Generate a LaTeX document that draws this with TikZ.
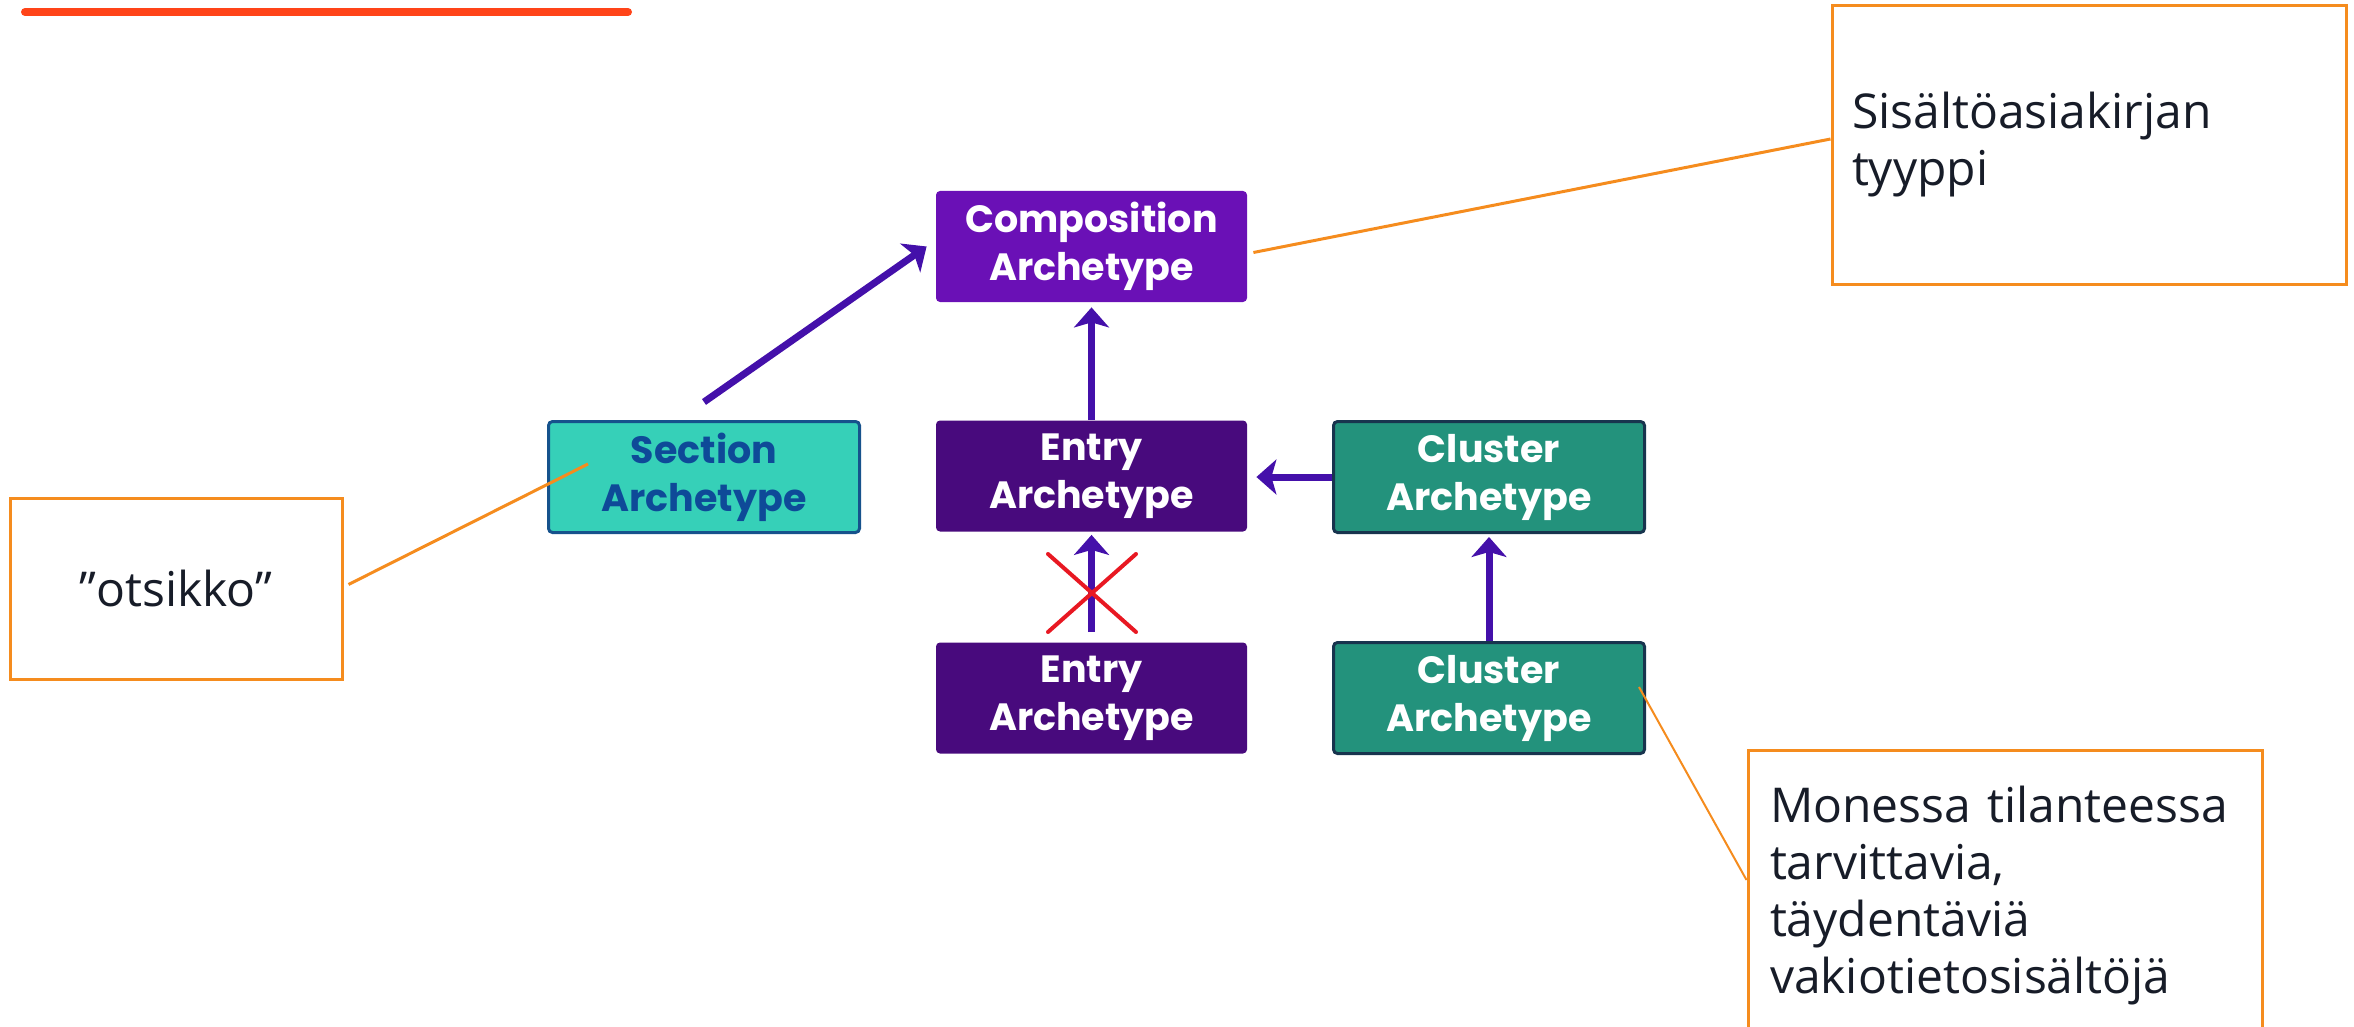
\documentclass[tikz,border=0pt]{standalone}
\usepackage{fontspec}
\setmainfont{Open Sans}
\newfontfamily\archfont{Poppins}
\usetikzlibrary{arrows.meta,calc}

\definecolor{compfill}{RGB}{106,16,182}
\definecolor{entryfill}{RGB}{72,10,125}
\definecolor{clusterfill}{RGB}{35,146,124}
\definecolor{clusterline}{RGB}{24,52,78}
\definecolor{sectionfill}{RGB}{54,208,184}
\definecolor{sectionline}{RGB}{22,82,140}
\definecolor{sectiontext}{RGB}{14,74,152}
\definecolor{arrowcol}{RGB}{68,16,170}
\definecolor{calloutline}{RGB}{245,140,30}
\definecolor{callouttext}{RGB}{23,28,40}
\definecolor{topbar}{RGB}{255,68,25}
\definecolor{crosscol}{RGB}{232,24,34}

\begin{document}
\begin{tikzpicture}[x=0.5pt,y=-0.5pt,
  arch/.style={rectangle, rounded corners=2pt, minimum width=155.5pt,
    minimum height=55.5pt, inner sep=0pt, align=center,
    font=\archfont\bfseries\fontsize{19}{24}\selectfont, text=white},
  comparch/.style={arch, fill=compfill},
  entryarch/.style={arch, fill=entryfill},
  clusterarch/.style={arch, fill=clusterfill, draw=clusterline, line width=1.5pt},
  sectionarch/.style={arch, fill=sectionfill, draw=sectionline, line width=1.5pt, text=sectiontext},
  link/.style={draw=arrowcol, line width=3.5pt,
    -{Stealth[length=10pt,width=17.5pt,inset=2.5pt]}},
  callout/.style={rectangle, draw=calloutline, line width=1.5pt, inner sep=0pt,
    font=\fontsize{24}{28.5}\selectfont, text=callouttext},
  leader/.style={draw=calloutline, line width=1.5pt}
]
\useasboundingbox (0,0) rectangle (2354,1027);
\clip (0,0) rectangle (2354,1027);

% accent bar in the top left corner
\draw[topbar, line width=4pt, line cap=round] (25,12) -- (628,12);

% archetype boxes
\node[comparch]    (comp) at (1091.5,246.5) {Composition\\Archetype};
\node[entryarch]   (em)   at (1091.5,476)   {Entry\\Archetype};
\node[entryarch]   (eb)   at (1091.5,698)   {Entry\\Archetype};
\node[clusterarch] (cm)   at (1489,477)     {Cluster\\Archetype};
\node[clusterarch] (cb)   at (1489,698)     {Cluster\\Archetype};
\node[sectionarch] (sec)  at (704,477)      {Section\\Archetype};

% callout boxes
\node[callout, minimum width=257pt, minimum height=139pt, text width=237pt, align=left]
  (sis) at (2089,145) {Sisältöasiakirjan\\tyyppi};
\node[callout, minimum width=166pt, minimum height=90.5pt, align=center]
  (ots) at (176,588.5) {”otsikko”};
\node[callout, minimum width=257pt, minimum height=146pt, text width=235pt, align=left]
  (mon) at (2005,896) {Monessa tilanteessa\\tarvittavia,\\täydentäviä\\vakiotietosisältöjä};

% containment arrows
\draw[link] ([yshift=9pt]sec.north) -- ([xshift=-4.5pt]comp.west);
\draw[link, shorten >=2.5pt] (em.north) -- (comp.south);
\draw[link, shorten >=4.5pt] (cm.west) -- (em.east |- cm.west);
\draw[link, shorten >=1.5pt] (cb.north) -- (cm.south);
\draw[link, shorten <=5pt, shorten >=1.5pt] (eb.north) -- (em.south);

% the entry-in-entry nesting is not allowed
\coordinate (cross) at (1092,593);
\draw[crosscol, line width=2pt, line cap=round]
  ($(cross)+(-44,-39)$) -- ($(cross)+(44,39)$)
  ($(cross)+(44,-39)$) -- ($(cross)+(-44,39)$);

% leader lines from the callouts
\draw[leader] ([xshift=3pt,yshift=-3pt]comp.east) -- ([yshift=3pt]sis.west);
\draw[leader] ([xshift=2.5pt,yshift=2pt]ots.east) -- ([xshift=20.5pt,yshift=6.5pt]sec.west);
\draw[leader, line width=1pt] ([xshift=-3.5pt,yshift=5.5pt]cb.east) -- ([yshift=8pt]mon.west);
\end{tikzpicture}
\end{document}
